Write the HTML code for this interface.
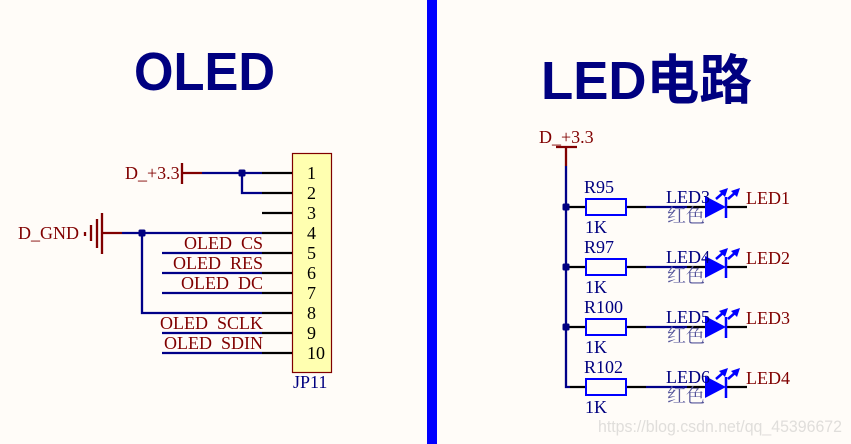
<!DOCTYPE html>
<html>
<head>
<meta charset="utf-8">
<style>
html,body{margin:0;padding:0;background:#fffcf8;}
svg{display:block;}
text{font-family:"Liberation Serif","Noto Serif CJK SC",serif;font-size:18px;}
.r{fill:#800000;}
.n{fill:#000080;}
.k{fill:#000;}
.t{font-family:"Liberation Sans","Noto Sans CJK SC",sans-serif;font-weight:700;font-size:54px;fill:#000080;}
.c{font-family:"Noto Serif CJK SC","Liberation Serif",serif;font-size:19px;fill:#54549a;}
.b{stroke:#000088;stroke-width:2.3;fill:none;}
.rd{stroke:#800000;stroke-width:2.3;fill:none;}
.bk{stroke:#000;stroke-width:2.3;fill:none;}
.bl{stroke:#0000ff;stroke-width:2.5;fill:none;}
.h{fill-opacity:0;}
</style>
</head>
<body>
<svg width="851" height="444" viewBox="0 0 851 444" xmlns="http://www.w3.org/2000/svg">
<rect width="851" height="444" fill="#fffcf8"/>
<rect x="427" y="0" width="10" height="444" fill="#0000ff"/>

<text class="t" x="134" y="90" textLength="141" lengthAdjust="spacingAndGlyphs">OLED</text>
<text class="t" x="541" y="99" textLength="211" lengthAdjust="spacingAndGlyphs">LED电路</text>

<!-- connector -->
<rect x="292.5" y="153.5" width="39" height="219" fill="#ffffb0" stroke="#800000" stroke-width="1.2"/>
<path class="bk" d="M262 173H292M262 193H292M262 213H292M262 233H292M262 253H292M262 273H292M262 293H292M262 313H292M262 333H292M262 353H292"/>
<g class="k">
<text x="307" y="179">1</text><text x="307" y="199">2</text><text x="307" y="219">3</text>
<text x="307" y="239">4</text><text x="307" y="259">5</text><text x="307" y="279">6</text>
<text x="307" y="299">7</text><text x="307" y="319">8</text><text x="307" y="339">9</text>
<text x="307" y="359">10</text>
</g>
<text class="n" x="293" y="388">JP11</text>

<!-- 3.3 -->
<text class="r" x="125" y="179">D_+3.3</text>
<path class="rd" d="M182 163V184M182 173H202"/>
<path class="b" d="M202 173H262M242 173V193H262"/>
<rect x="238.5" y="169.5" width="7" height="7" rx="1.5" fill="#000080"/>

<!-- GND -->
<text class="r" x="18" y="239">D_GND</text>
<path class="rd" d="M85 232V236M91 225V241M97 219V248M102 213V254M102 233H122"/>
<path class="b" d="M122 233H262M142 233V313H262"/>
<rect x="138.5" y="229.5" width="7" height="7" rx="1.5" fill="#000080"/>

<!-- signals -->
<path class="b" d="M162 253H262M162 273H262M162 293H262M162 333H262M162 353H262"/>
<g class="r" text-anchor="end">
<text x="263" y="249">OLED<tspan class="h">_</tspan>CS</text>
<text x="263" y="269">OLED<tspan class="h">_</tspan>RES</text>
<text x="263" y="289">OLED<tspan class="h">_</tspan>DC</text>
<text x="263" y="329">OLED<tspan class="h">_</tspan>SCLK</text>
<text x="263" y="349">OLED<tspan class="h">_</tspan>SDIN</text>
</g>

<!-- LED power -->
<text class="r" x="539" y="143">D_+3.3</text>
<path class="rd" d="M556 147H577M566 147V166"/>
<path class="b" d="M566 166V387H570"/>

<!-- rows -->
<g id="row1">
<path class="bk" d="M566 207H586M626 207H646M687 207H705M726 207H747"/>
<path class="b" d="M646 207H687"/>
<rect x="586" y="199" width="40" height="16" fill="#fffcf8" stroke="#0000ff" stroke-width="2"/>
<rect x="562.5" y="203.5" width="7" height="7" rx="1.5" fill="#000080"/>
<polygon points="705,196 726,207 705,218" fill="#0000ff"/>
<path class="bl" d="M726 197V218M716 199L724 192M728 199L736 192"/>
<polygon points="728,188 719,191 725,197" fill="#0000ff"/>
<polygon points="740,188 731,191 737,197" fill="#0000ff"/>
<text class="n" x="584" y="193">R95</text>
<text class="n" x="585" y="233">1K</text>
<text class="n" x="666" y="203">LED3</text>
<text class="c" x="667" y="222">红色</text>
<text class="r" x="746" y="204">LED1</text>
</g>
<g id="row2" transform="translate(0,60)">
<path class="bk" d="M566 207H586M626 207H646M687 207H705M726 207H747"/>
<path class="b" d="M646 207H687"/>
<rect x="586" y="199" width="40" height="16" fill="#fffcf8" stroke="#0000ff" stroke-width="2"/>
<rect x="562.5" y="203.5" width="7" height="7" rx="1.5" fill="#000080"/>
<polygon points="705,196 726,207 705,218" fill="#0000ff"/>
<path class="bl" d="M726 197V218M716 199L724 192M728 199L736 192"/>
<polygon points="728,188 719,191 725,197" fill="#0000ff"/>
<polygon points="740,188 731,191 737,197" fill="#0000ff"/>
<text class="n" x="584" y="193">R97</text>
<text class="n" x="585" y="233">1K</text>
<text class="n" x="666" y="203">LED4</text>
<text class="c" x="667" y="222">红色</text>
<text class="r" x="746" y="204">LED2</text>
</g>
<g id="row3" transform="translate(0,120)">
<path class="bk" d="M566 207H586M626 207H646M687 207H705M726 207H747"/>
<path class="b" d="M646 207H687"/>
<rect x="586" y="199" width="40" height="16" fill="#fffcf8" stroke="#0000ff" stroke-width="2"/>
<rect x="562.5" y="203.5" width="7" height="7" rx="1.5" fill="#000080"/>
<polygon points="705,196 726,207 705,218" fill="#0000ff"/>
<path class="bl" d="M726 197V218M716 199L724 192M728 199L736 192"/>
<polygon points="728,188 719,191 725,197" fill="#0000ff"/>
<polygon points="740,188 731,191 737,197" fill="#0000ff"/>
<text class="n" x="584" y="193">R100</text>
<text class="n" x="585" y="233">1K</text>
<text class="n" x="666" y="203">LED5</text>
<text class="c" x="667" y="222">红色</text>
<text class="r" x="746" y="204">LED3</text>
</g>
<g id="row4" transform="translate(0,180)">
<path class="bk" d="M570 207H586M626 207H646M687 207H705M726 207H747"/>
<path class="b" d="M646 207H687"/>
<rect x="586" y="199" width="40" height="16" fill="#fffcf8" stroke="#0000ff" stroke-width="2"/>
<polygon points="705,196 726,207 705,218" fill="#0000ff"/>
<path class="bl" d="M726 197V218M716 199L724 192M728 199L736 192"/>
<polygon points="728,188 719,191 725,197" fill="#0000ff"/>
<polygon points="740,188 731,191 737,197" fill="#0000ff"/>
<text class="n" x="584" y="193">R102</text>
<text class="n" x="585" y="233">1K</text>
<text class="n" x="666" y="203">LED6</text>
<text class="c" x="667" y="222">红色</text>
<text class="r" x="746" y="204">LED4</text>
</g>

<text x="598" y="432" textLength="244" lengthAdjust="spacingAndGlyphs" style="font-family:'Liberation Sans',sans-serif;font-size:17px;fill:#e0dedb;">https://blog.csdn.net/qq_45396672</text>
</svg>
</body>
</html>
